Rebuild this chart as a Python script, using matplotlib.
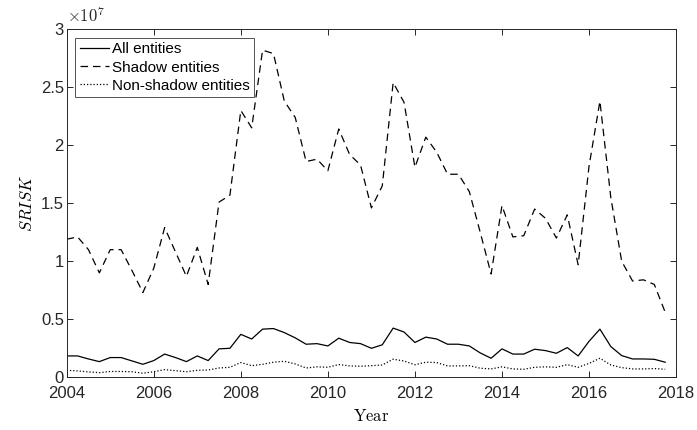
import matplotlib
matplotlib.use("Agg")
import matplotlib.pyplot as plt
import numpy as np
from matplotlib.ticker import FuncFormatter

# quarterly observations, 2004Q1 .. 2017Q4 (values in units of 1e7)
START_YEAR = 2004
STEP = 0.25

SHADOW = [1.19, 1.21, 1.10, 0.90, 1.10, 1.10, 0.92, 0.73,
          0.94, 1.29, 1.08, 0.87, 1.12, 0.80, 1.51, 1.57,
          2.30, 2.15, 2.82, 2.79, 2.38, 2.24, 1.86, 1.88,
          1.78, 2.14, 1.92, 1.83, 1.46, 1.65, 2.54, 2.37,
          1.81, 2.07, 1.94, 1.75, 1.75, 1.60, 1.25, 0.89,
          1.48, 1.21, 1.22, 1.45, 1.37, 1.20, 1.40, 0.97,
          1.82, 2.38, 1.55, 1.00, 0.83, 0.84, 0.80, 0.56]

ALL = [0.184, 0.184, 0.158, 0.135, 0.170, 0.170, 0.141, 0.112,
       0.144, 0.200, 0.170, 0.135, 0.184, 0.144, 0.245, 0.250,
       0.370, 0.330, 0.415, 0.420, 0.385, 0.340, 0.285, 0.290,
       0.270, 0.337, 0.300, 0.290, 0.250, 0.280, 0.424, 0.390,
       0.300, 0.346, 0.330, 0.285, 0.285, 0.270, 0.210, 0.164,
       0.245, 0.200, 0.200, 0.242, 0.230, 0.207, 0.256, 0.184,
       0.310, 0.415, 0.265, 0.187, 0.158, 0.158, 0.155, 0.130]

NON_SHADOW = [0.060, 0.055, 0.046, 0.040, 0.050, 0.050, 0.048, 0.035,
              0.048, 0.066, 0.057, 0.048, 0.060, 0.063, 0.080, 0.086,
              0.127, 0.100, 0.112, 0.130, 0.138, 0.115, 0.080, 0.090,
              0.086, 0.110, 0.098, 0.095, 0.100, 0.106, 0.156, 0.140,
              0.108, 0.130, 0.127, 0.098, 0.098, 0.100, 0.078, 0.072,
              0.090, 0.072, 0.069, 0.086, 0.090, 0.086, 0.109, 0.086,
              0.120, 0.164, 0.106, 0.083, 0.072, 0.072, 0.075, 0.069]

LABELS = ["All entities", "Shadow entities", "Non-shadow entities"]
X_TICKS = [2004, 2006, 2008, 2010, 2012, 2014, 2016, 2018]
Y_TICKS = [0, 0.5, 1, 1.5, 2, 2.5, 3]

AX_COLOR = "#262626"


def main() -> None:
    plt.rcParams["font.family"] = ["Liberation Sans", "DejaVu Sans"]
    plt.rcParams["mathtext.fontset"] = "cm"

    t = START_YEAR + STEP * np.arange(len(ALL))

    fig = plt.figure(figsize=(6.97, 4.30), dpi=100)
    ax = fig.add_axes([0.0957, 0.1226, 0.8743, 0.8094])

    ax.plot(t, ALL, color="black", lw=0.9, ls="-", label=LABELS[0])
    ax.plot(t, SHADOW, color="black", lw=0.9, ls=(0, (6, 4)), label=LABELS[1])
    ax.plot(t, NON_SHADOW, color="black", lw=0.9, ls=(0, (1, 1.6)), label=LABELS[2])

    ax.set_xlim(2004, 2018)
    ax.set_ylim(0, 3)
    ax.set_xticks(X_TICKS)
    ax.set_yticks(Y_TICKS)
    ax.yaxis.set_major_formatter(FuncFormatter(lambda v, _: f"{v:g}"))
    ax.tick_params(direction="in", length=4, width=0.7, colors=AX_COLOR,
                   labelsize=12, top=True, right=True)
    ax.tick_params(axis="x", pad=6)
    ax.tick_params(axis="y", pad=2)
    for spine in ax.spines.values():
        spine.set_color(AX_COLOR)
        spine.set_linewidth(0.7)

    ax.text(0.0, 1.012, r"$\times 10^{7}$", transform=ax.transAxes,
            ha="left", va="bottom", fontsize=12, color=AX_COLOR)

    ax.set_xlabel(r"$\mathrm{Year}$", fontsize=12, labelpad=5)
    ax.set_ylabel(r"$SRISK$", fontsize=12, labelpad=4)

    leg = ax.legend(loc="upper left", fontsize=11, frameon=True, fancybox=False,
                    handlelength=1.9, handletextpad=0.2, borderpad=0.3,
                    labelspacing=0.28, borderaxespad=0.55)
    leg.get_frame().set_edgecolor(AX_COLOR)
    leg.get_frame().set_linewidth(0.7)

    fig.savefig("out.png", dpi=100)
    plt.close(fig)


if __name__ == "__main__":
    main()
